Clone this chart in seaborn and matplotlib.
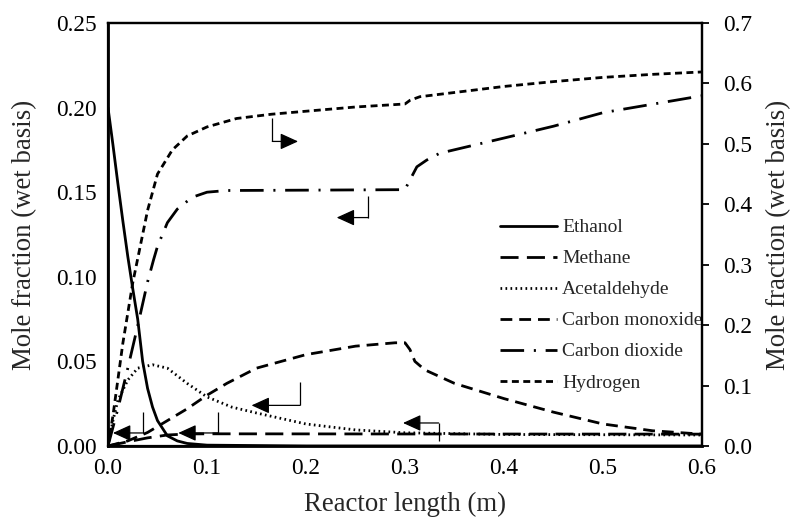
import matplotlib
matplotlib.use("Agg")
import matplotlib.pyplot as plt
import seaborn as sns
import numpy as np
from matplotlib.lines import Line2D

# ---------------- data ----------------
ethanol_x = [0.0, 0.005, 0.01, 0.015, 0.02, 0.025, 0.03, 0.035, 0.04, 0.045, 0.05, 0.06, 0.07, 0.08, 0.1, 0.2, 0.6]
ethanol_y = [0.200, 0.178, 0.155, 0.133, 0.112, 0.093, 0.075, 0.050, 0.034, 0.023, 0.015, 0.006, 0.003, 0.0015, 0.0005, 0.0, 0.0]

methane_x = [0.0, 0.02, 0.04, 0.06, 0.08, 0.1, 0.3, 0.6]
methane_y = [0.0, 0.0025, 0.0048, 0.0065, 0.0071, 0.0072, 0.0071, 0.0070]

acet_x = [0.0, 0.005, 0.01, 0.02, 0.03, 0.045, 0.06, 0.08, 0.1, 0.125, 0.15, 0.2, 0.25, 0.3, 0.4, 0.6]
acet_y = [0.0, 0.015, 0.027, 0.039, 0.046, 0.048, 0.046, 0.037, 0.029, 0.023, 0.0195, 0.013, 0.0095, 0.0078, 0.0068, 0.0065]

co_x = [0.0, 0.02, 0.04, 0.06, 0.08, 0.1, 0.12, 0.15, 0.2, 0.25, 0.29, 0.3, 0.305, 0.31, 0.32, 0.35, 0.4, 0.45, 0.5, 0.55, 0.6]
co_y = [0.0, 0.003, 0.008, 0.015, 0.022, 0.030, 0.037, 0.046, 0.054, 0.059, 0.061, 0.061, 0.057, 0.050, 0.045, 0.037, 0.028, 0.020, 0.013, 0.009, 0.007]

co2_x = [0.0, 0.01, 0.02, 0.03, 0.04, 0.046, 0.05, 0.06, 0.07, 0.085, 0.1, 0.12, 0.2, 0.3, 0.303, 0.312, 0.322, 0.335, 0.4, 0.45, 0.5, 0.55, 0.6]
co2_y = [0.0, 0.022, 0.046, 0.071, 0.097, 0.110, 0.118, 0.132, 0.140, 0.147, 0.1500, 0.1510, 0.1512, 0.1515, 0.155, 0.165, 0.169, 0.173, 0.182, 0.189, 0.197, 0.202, 0.207]

h2_x = [0.0, 0.005, 0.01, 0.015, 0.02, 0.025, 0.03, 0.04, 0.05, 0.065, 0.08, 0.1, 0.13, 0.165, 0.2, 0.25, 0.3, 0.305, 0.315, 0.35, 0.4, 0.45, 0.5, 0.55, 0.6]
h2_y = [0.0, 0.05, 0.11, 0.17, 0.22, 0.27, 0.31, 0.39, 0.45, 0.49, 0.513, 0.528, 0.542, 0.549, 0.554, 0.561, 0.566, 0.572, 0.578, 0.585, 0.595, 0.603, 0.610, 0.615, 0.619]

labels = ["Ethanol", "Methane", "Acetaldehyde", "Carbon monoxide", "Carbon dioxide", "Hydrogen"]

x_ticks = [0.0, 0.1, 0.2, 0.3, 0.4, 0.5, 0.6]
left_ticks = [0.00, 0.05, 0.10, 0.15, 0.20, 0.25]
right_ticks = [0.0, 0.1, 0.2, 0.3, 0.4, 0.5, 0.6, 0.7]

# pointer arrows (left-axis data units): x of stem, stem end y, corner y, tip x
arrow_stem_x = [0.166, 0.263, 0.194, 0.334, 0.111, 0.035]
arrow_stem_y = [0.194, 0.148, 0.038, 0.003, 0.020, 0.020]
arrow_corner_y = [0.180, 0.135, 0.024, 0.0136, 0.0077, 0.0077]
arrow_tip_x = [0.192, 0.231, 0.145, 0.298, 0.071, 0.005]

# ---------------- style ----------------
sns.set_style("white")
plt.rcParams["font.family"] = ["Liberation Serif", "DejaVu Serif"]
plt.rcParams["lines.scale_dashes"] = False

fig = plt.figure(figsize=(7.9, 5.25), dpi=100)
ax = fig.add_axes([0.1367, 0.1505, 0.8886 - 0.1367, 0.9562 - 0.1505])
ax2 = ax.twinx()

lw = 2.0
styles = {
    "Ethanol": "-",
    "Methane": (0, (13, 6)),
    "Acetaldehyde": (0, (1.2, 2.4)),
    "Carbon monoxide": (0, (8.5, 5)),
    "Carbon dioxide": (0, (17, 7, 1.5, 7)),
    "Hydrogen": (0, (5, 3.2)),
}

series = [
    (ax, ethanol_x, ethanol_y, "Ethanol"),
    (ax, methane_x, methane_y, "Methane"),
    (ax, acet_x, acet_y, "Acetaldehyde"),
    (ax, co_x, co_y, "Carbon monoxide"),
    (ax, co2_x, co2_y, "Carbon dioxide"),
    (ax2, h2_x, h2_y, "Hydrogen"),
]
for a, xs, ys, name in series:
    sns.lineplot(x=xs, y=ys, ax=a, color="black", linewidth=lw,
                 linestyle=styles[name], legend=False, sort=False)

# arrows
for xv, yv, yc, xt in zip(arrow_stem_x, arrow_stem_y, arrow_corner_y, arrow_tip_x):
    ax.plot([xv, xv], [yv, yc], color="black", lw=0.9, solid_capstyle="butt")
    ax.annotate("", xy=(xt, yc), xytext=(xv, yc),
                arrowprops=dict(arrowstyle="-|>,head_length=0.55,head_width=0.25",
                                color="black", lw=0.9, mutation_scale=20,
                                shrinkA=0, shrinkB=0))

# axes limits / ticks
ax.set_xlim(0, 0.6)
ax.set_ylim(0, 0.25)
ax2.set_ylim(0, 0.7)
ax.set_xticks(x_ticks)
ax.set_xticklabels([f"{v:.1f}" for v in x_ticks])
ax.set_yticks(left_ticks)
ax.set_yticklabels([f"{v:.2f}" for v in left_ticks])
ax2.set_yticks(right_ticks)
ax2.set_yticklabels([f"{v:.1f}" for v in right_ticks])

tick_fs = 16.8
ax.tick_params(axis="x", length=0, pad=9, labelsize=tick_fs, colors="black")
ax.tick_params(axis="y", length=0, pad=8, labelsize=tick_fs, colors="black")
ax2.tick_params(axis="y", direction="out", length=5, width=1.3, pad=10,
                labelsize=tick_fs, colors="black")

label_fs = 19.3
ax.set_xlabel("Reactor length (m)", fontsize=label_fs, labelpad=9)
ax.set_ylabel("Mole fraction (wet basis)", fontsize=label_fs, labelpad=14)
ax2.set_ylabel("Mole fraction (wet basis)", fontsize=label_fs, labelpad=10)

for a in (ax, ax2):
    for s in a.spines.values():
        s.set_color("black")
        s.set_linewidth(1.6)
ax.spines["left"].set_linewidth(2.0)
ax.spines["bottom"].set_linewidth(2.0)

# legend
handles = [Line2D([0], [0], color="black", lw=lw, linestyle=styles[n]) for n in labels]
leg = ax.legend(handles, labels, loc="center left", bbox_to_anchor=(0.66, 0.333),
                frameon=False, fontsize=14, handlelength=2.95, handletextpad=0.25,
                labelspacing=0.69, borderpad=0, borderaxespad=0)
leg.set_zorder(5)

fig.savefig("out.png", dpi=100)
